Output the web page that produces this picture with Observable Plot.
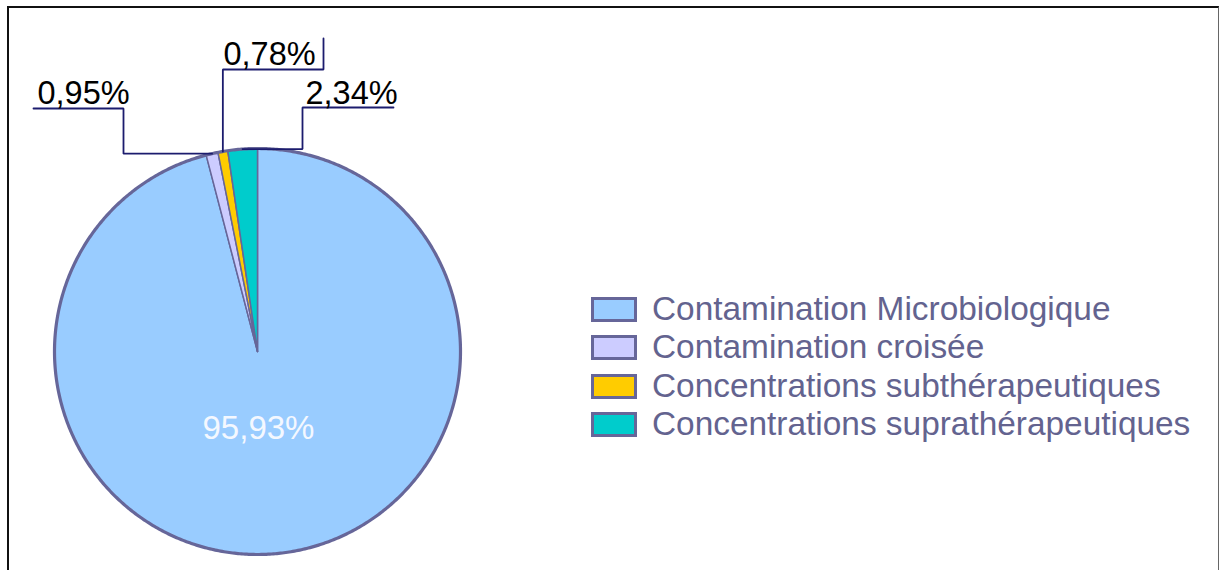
<!DOCTYPE html>
<html><head><meta charset="utf-8">
<script src="https://cdn.jsdelivr.net/npm/d3@7"></script>
<script src="https://cdn.jsdelivr.net/npm/@observablehq/plot@0.6"></script>
<style>
html,body{margin:0;padding:0;background:#fff;overflow:hidden;width:1220px;height:570px;}
#wrap{position:relative;width:1220px;height:570px;overflow:hidden;}
#chart svg{display:block;}
#frame{position:absolute;left:7px;top:6px;width:1209px;height:700px;border-top:2.5px solid #111;border-left:2.5px solid #111;border-right:1.5px solid #666;pointer-events:none;}
#legend{position:absolute;left:591px;top:296px;font-family:"Liberation Sans",Arial,sans-serif;}
.row{position:absolute;left:0;height:38px;width:620px;}
.sw{position:absolute;left:0;top:1px;width:40px;height:19px;border:3px solid #666699;}
.lb{position:absolute;left:61px;top:-4px;font-size:33.4px;line-height:1;color:#63638f;white-space:nowrap;}
</style></head><body>
<div id="wrap"><div id="chart"></div><div id="legend"></div><div id="frame"></div></div>
<script>
// ---- data ----
const categories = ["Contamination Microbiologique", "Contamination croisée", "Concentrations subthérapeutiques", "Concentrations suprathérapeutiques"];
const values = [95.93, 0.95, 0.78, 2.34];
const valueLabels = ["95,93%", "0,95%", "0,78%", "2,34%"];
const colors = ["#99ccff", "#ccccff", "#ffcc00", "#00cccc"];

// ---- layout ----
const W = 1220, H = 570;
const CX = 257, CY = 351, R = 203; // pie centre and radius in pixels
const STROKE = "#666699";
const FONT = "Liberation Sans, Arial, sans-serif";

const total = d3.sum(values);
let cum = 0;
const slices = values.map((v, i) => {
  const a0 = cum / total * 2 * Math.PI;
  cum += v;
  const a1 = cum / total * 2 * Math.PI;
  return {i, v, a0, a1, mid: (a0 + a1) / 2};
});
const pt = (a, r) => ({x: r * Math.sin(a), y: r * Math.cos(a)});

function slicePolygon(s) {
  const n = Math.max(2, Math.ceil((s.a1 - s.a0) / (0.5 * Math.PI / 180)));
  const pts = [{x: 0, y: 0}];
  for (let k = 0; k <= n; k++) pts.push(pt(s.a0 + (s.a1 - s.a0) * k / n, 1));
  pts.push({x: 0, y: 0});
  return pts;
}
const circle = d3.range(0, 721).map(k => pt(k / 720 * 2 * Math.PI, 1));

// leader layout (unit coordinates, relative to pie radius)
const u = (px, py) => ({x: (px - CX) / R, y: (CY - py) / R});
const leaders = [];
const labelPts = [];
// slice 1 : 0,95%
{
  const e = pt(slices[1].mid, 1);
  const a = u(123, 108), b = u(33, 108);
  leaders.push([e, {x: a.x, y: e.y}, {x: a.x, y: a.y}, {x: b.x, y: a.y}]);
  labelPts.push({...u(37, 103), label: valueLabels[1]});
}
// slice 2 : 0,78%
{
  const e = pt(slices[2].mid, 1);
  const a = u(323, 69), b = u(323, 38);
  leaders.push([e, {x: e.x, y: a.y}, {x: a.x, y: a.y}, {x: a.x, y: b.y}]);
  labelPts.push({...u(223, 64), label: valueLabels[2]});
}
// slice 3 : 2,34%
{
  const e = pt(slices[3].mid, 1);
  const a = u(302, 107), b = u(393, 107);
  leaders.push([e, {x: a.x, y: e.y}, {x: a.x, y: a.y}, {x: b.x, y: a.y}]);
  labelPts.push({...u(305, 103), label: valueLabels[3]});
}
// main slice label: below the centre, slightly toward the slice's mid angle
const innerPos = pt(slices[0].mid, 0.38);
const inner = {x: innerPos.x * 0.1, y: innerPos.y, label: valueLabels[0]};

const marks = [];
slices.forEach(s => {
  marks.push(Plot.line(slicePolygon(s), {x: "x", y: "y", fill: colors[s.i], stroke: STROKE, strokeWidth: 1.5, strokeLinejoin: "round"}));
});
marks.push(Plot.line(circle, {x: "x", y: "y", stroke: STROKE, strokeWidth: 3.2}));
leaders.forEach(l => marks.push(Plot.line(l, {x: "x", y: "y", stroke: "#1c1c6e", strokeWidth: 1.8, strokeLinejoin: "miter"})));
marks.push(Plot.text(labelPts, {x: "x", y: "y", text: "label", textAnchor: "start", lineAnchor: "bottom", fontSize: 32.5, fontFamily: FONT, fill: "#000"}));
marks.push(Plot.text([inner], {x: "x", y: "y", text: "label", textAnchor: "middle", lineAnchor: "middle", fontSize: 33, fontFamily: FONT, fill: "#f4f8ff"}));

const chart = Plot.plot({
  width: W, height: H,
  marginTop: 0, marginBottom: 0, marginLeft: 0, marginRight: 0,
  x: {domain: [-CX / R, (W - CX) / R], range: [0, W], axis: null},
  y: {domain: [-(H - CY) / R, CY / R], range: [H, 0], axis: null},
  style: {background: "transparent"},
  marks
});
document.getElementById("chart").appendChild(chart);

// legend
const legend = document.getElementById("legend");
categories.forEach((c, i) => {
  const row = document.createElement("div");
  row.className = "row";
  row.style.top = (i * 38.4) + "px";
  const sw = document.createElement("div");
  sw.className = "sw";
  sw.style.background = colors[i];
  const lb = document.createElement("div");
  lb.className = "lb";
  lb.textContent = c;
  row.appendChild(sw); row.appendChild(lb);
  legend.appendChild(row);
});
</script>
</body></html>
